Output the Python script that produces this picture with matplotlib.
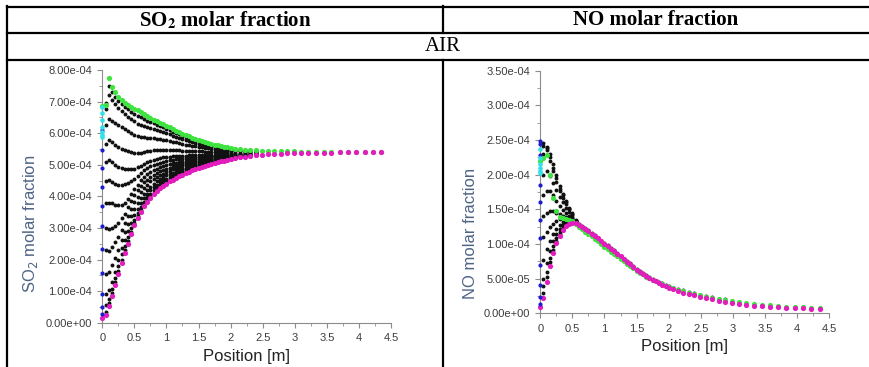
import matplotlib
matplotlib.use("Agg")
import matplotlib.pyplot as plt
from matplotlib.lines import Line2D
from matplotlib.ticker import FuncFormatter, MultipleLocator
import numpy as np

# axial positions of the mesh columns [m]
x_cols = [0.00, 0.05, 0.10, 0.15, 0.20, 0.25, 0.30, 0.35, 0.40, 0.45, 0.50,
          0.55, 0.60, 0.65, 0.70, 0.75, 0.80, 0.85, 0.90, 0.95, 1.00,
          1.05, 1.10, 1.15, 1.20, 1.25, 1.30, 1.35, 1.40, 1.45, 1.50,
          1.55, 1.60, 1.65, 1.70, 1.75, 1.80, 1.85, 1.90, 1.95, 2.00,
          2.07, 2.15, 2.23, 2.31, 2.40, 2.49, 2.58, 2.68, 2.78, 2.88,
          2.99, 3.10, 3.21, 3.33, 3.45, 3.57, 3.70, 3.83, 3.96, 4.09, 4.22, 4.35]

# ---- SO2 molar fraction (x 1e-4) ----
so2_axis = [0.14, 0.25, 0.53, 0.85, 1.20, 1.55, 1.90, 2.20, 2.50, 2.80, 3.08,
            3.30, 3.50, 3.68, 3.83, 3.96, 4.07, 4.17, 4.26, 4.33, 4.40,
            4.47, 4.53, 4.59, 4.64, 4.69, 4.74, 4.78, 4.82, 4.86, 4.90,
            4.94, 4.97, 5.00, 5.03, 5.06, 5.08, 5.11, 5.13, 5.15, 5.17,
            5.20, 5.23, 5.26, 5.28, 5.30, 5.32, 5.33, 5.34, 5.35, 5.36,
            5.37, 5.37, 5.38, 5.38, 5.38, 5.38, 5.39, 5.39, 5.39, 5.39, 5.39, 5.39]
so2_wall = [6.85, 6.90, 7.75, 7.47, 7.29, 7.16, 7.05, 6.97, 6.90, 6.84, 6.78,
            6.72, 6.66, 6.60, 6.54, 6.49, 6.43, 6.38, 6.33, 6.28, 6.23,
            6.18, 6.13, 6.08, 6.03, 5.98, 5.94, 5.90, 5.86, 5.82, 5.78,
            5.75, 5.72, 5.69, 5.66, 5.63, 5.61, 5.59, 5.57, 5.55, 5.53,
            5.51, 5.49, 5.48, 5.47, 5.46, 5.45, 5.44, 5.43, 5.43, 5.42,
            5.42, 5.41, 5.41, 5.40, 5.40, 5.40, 5.40, 5.39, 5.39, 5.39, 5.39, 5.39]
so2_inlet = [6.10, 5.47, 4.89, 4.30, 3.70, 3.06, 2.34, 1.58, 0.90, 0.49, 0.27]
so2_inlet2 = [6.84, 6.63, 6.42, 6.20, 6.05, 5.95, 5.89]
# interior rows, columns 0.05 ... 2.40 m
so2_rows = [
    [0.35, 0.62, 0.95, 1.30, 1.65, 2.00, 2.30, 2.59, 2.88, 3.15, 3.37,
     3.56, 3.74, 3.88, 4.01, 4.12, 4.21, 4.30, 4.37, 4.44, 4.50, 4.56, 4.62,
     4.67, 4.72, 4.76, 4.80, 4.84, 4.88, 4.92, 4.96, 4.99, 5.01, 5.04, 5.07,
     5.09, 5.12, 5.14, 5.16, 5.18, 5.21, 5.24, 5.26, 5.28, 5.30],
    [0.55, 0.75, 1.08, 1.42, 1.78, 2.16, 2.44, 2.72, 3.00, 3.26, 3.47,
     3.66, 3.83, 3.97, 4.09, 4.19, 4.28, 4.36, 4.43, 4.49, 4.56, 4.61, 4.66,
     4.71, 4.75, 4.80, 4.84, 4.87, 4.91, 4.94, 4.98, 5.01, 5.03, 5.06, 5.09,
     5.11, 5.13, 5.15, 5.17, 5.19, 5.22, 5.24, 5.27, 5.29, 5.31],
    [0.92, 1.05, 1.30, 1.62, 1.98, 2.36, 2.63, 2.90, 3.16, 3.41, 3.61,
     3.78, 3.94, 4.07, 4.19, 4.28, 4.37, 4.45, 4.51, 4.56, 4.62, 4.67, 4.72,
     4.77, 4.81, 4.85, 4.88, 4.91, 4.95, 4.98, 5.01, 5.04, 5.06, 5.09, 5.11,
     5.13, 5.15, 5.17, 5.19, 5.20, 5.23, 5.25, 5.28, 5.30, 5.31],
    [1.55, 1.60, 1.83, 2.04, 2.30, 2.62, 2.87, 3.12, 3.37, 3.60, 3.78,
     3.94, 4.09, 4.21, 4.31, 4.40, 4.48, 4.55, 4.60, 4.66, 4.71, 4.75, 4.80,
     4.83, 4.87, 4.91, 4.94, 4.97, 4.99, 5.02, 5.05, 5.08, 5.10, 5.12, 5.14,
     5.15, 5.18, 5.19, 5.21, 5.22, 5.24, 5.27, 5.29, 5.31, 5.32],
    [2.30, 2.28, 2.40, 2.55, 2.72, 2.93, 3.15, 3.38, 3.61, 3.82, 3.98,
     4.13, 4.26, 4.37, 4.47, 4.54, 4.61, 4.67, 4.72, 4.77, 4.81, 4.85, 4.89,
     4.92, 4.95, 4.98, 5.00, 5.03, 5.05, 5.08, 5.10, 5.12, 5.14, 5.16, 5.17,
     5.19, 5.21, 5.22, 5.23, 5.24, 5.26, 5.28, 5.30, 5.32, 5.33],
    [3.00, 2.98, 3.00, 3.05, 3.15, 3.30, 3.45, 3.65, 3.85, 4.04, 4.19,
     4.32, 4.44, 4.53, 4.62, 4.68, 4.74, 4.80, 4.84, 4.88, 4.91, 4.95, 4.98,
     5.00, 5.03, 5.05, 5.07, 5.09, 5.11, 5.13, 5.15, 5.17, 5.18, 5.19, 5.21,
     5.22, 5.23, 5.24, 5.25, 5.26, 5.28, 5.30, 5.32, 5.33, 5.34],
    [3.78, 3.80, 3.78, 3.74, 3.72, 3.74, 3.80, 3.92, 4.07, 4.23, 4.37,
     4.51, 4.61, 4.70, 4.77, 4.83, 4.88, 4.92, 4.95, 4.99, 5.02, 5.04, 5.07,
     5.08, 5.10, 5.12, 5.14, 5.15, 5.17, 5.18, 5.20, 5.21, 5.22, 5.23, 5.24,
     5.25, 5.26, 5.27, 5.28, 5.29, 5.30, 5.31, 5.33, 5.34, 5.35],
    [4.50, 4.52, 4.45, 4.40, 4.37, 4.36, 4.38, 4.42, 4.48, 4.55, 4.65,
     4.73, 4.82, 4.89, 4.95, 4.99, 5.03, 5.07, 5.09, 5.11, 5.14, 5.15, 5.17,
     5.18, 5.19, 5.21, 5.22, 5.23, 5.23, 5.24, 5.26, 5.26, 5.27, 5.28, 5.28,
     5.29, 5.30, 5.30, 5.31, 5.31, 5.32, 5.33, 5.35, 5.35, 5.36],
    [5.10, 5.15, 5.08, 5.00, 4.94, 4.90, 4.88, 4.87, 4.87, 4.88, 4.92,
     4.95, 5.02, 5.08, 5.12, 5.16, 5.19, 5.21, 5.23, 5.24, 5.26, 5.27, 5.28,
     5.28, 5.28, 5.29, 5.30, 5.30, 5.30, 5.30, 5.31, 5.32, 5.32, 5.32, 5.32,
     5.32, 5.33, 5.33, 5.33, 5.34, 5.34, 5.35, 5.36, 5.37, 5.37],
    [5.65, 5.78, 5.72, 5.64, 5.57, 5.51, 5.46, 5.42, 5.39, 5.37, 5.37,
     5.36, 5.40, 5.43, 5.45, 5.46, 5.47, 5.48, 5.48, 5.48, 5.48, 5.47, 5.47,
     5.46, 5.45, 5.45, 5.44, 5.43, 5.43, 5.42, 5.42, 5.41, 5.41, 5.40, 5.40,
     5.39, 5.39, 5.39, 5.39, 5.38, 5.38, 5.38, 5.39, 5.39, 5.39],
    [6.25, 6.45, 6.40, 6.33, 6.26, 6.19, 6.12, 6.06, 6.00, 5.95, 5.91,
     5.87, 5.87, 5.86, 5.86, 5.84, 5.83, 5.81, 5.79, 5.77, 5.75, 5.73, 5.71,
     5.68, 5.66, 5.64, 5.62, 5.60, 5.58, 5.56, 5.55, 5.53, 5.52, 5.50, 5.49,
     5.48, 5.47, 5.46, 5.45, 5.44, 5.43, 5.43, 5.43, 5.42, 5.42],
    [6.75, 7.20, 7.05, 6.92, 6.80, 6.70, 6.60, 6.52, 6.44, 6.37, 6.30,
     6.25, 6.22, 6.19, 6.16, 6.12, 6.09, 6.06, 6.03, 5.99, 5.96, 5.92, 5.89,
     5.85, 5.81, 5.78, 5.75, 5.72, 5.70, 5.67, 5.64, 5.62, 5.60, 5.58, 5.56,
     5.54, 5.53, 5.51, 5.50, 5.48, 5.47, 5.46, 5.45, 5.45, 5.44],
    [6.95, 7.50, 7.30, 7.15, 7.02, 6.92, 6.83, 6.75, 6.68, 6.61, 6.55,
     6.50, 6.45, 6.40, 6.36, 6.31, 6.27, 6.23, 6.18, 6.14, 6.09, 6.05, 6.01,
     5.96, 5.92, 5.88, 5.84, 5.81, 5.77, 5.74, 5.71, 5.68, 5.66, 5.63, 5.60,
     5.58, 5.57, 5.55, 5.53, 5.51, 5.49, 5.48, 5.47, 5.46, 5.45],
]

# ---- NO molar fraction (x 1e-4) ----
no_axis = [0.09, 0.22, 0.45, 0.68, 0.87, 1.01, 1.12, 1.20, 1.26, 1.29, 1.30,
           1.30, 1.28, 1.25, 1.22, 1.19, 1.15, 1.12, 1.08, 1.04, 1.00,
           0.97, 0.93, 0.90, 0.86, 0.82, 0.78, 0.74, 0.71, 0.67, 0.63,
           0.60, 0.57, 0.54, 0.51, 0.48, 0.46, 0.43, 0.41, 0.39, 0.37,
           0.35, 0.32, 0.30, 0.28, 0.26, 0.24, 0.22, 0.20, 0.18, 0.165,
           0.15, 0.135, 0.12, 0.11, 0.10, 0.09, 0.085, 0.08, 0.075, 0.07, 0.065, 0.06]
no_wall = [2.20, 2.24, 2.28, 2.00, 1.66, 1.47, 1.39, 1.37, 1.36, 1.35, 1.33,
           1.29, 1.25, 1.22, 1.18, 1.15, 1.11, 1.07, 1.04, 1.00, 0.96,
           0.93, 0.89, 0.85, 0.82, 0.78, 0.75, 0.71, 0.68, 0.65, 0.61,
           0.58, 0.56, 0.53, 0.51, 0.48, 0.46, 0.44, 0.42, 0.40, 0.38,
           0.36, 0.34, 0.32, 0.30, 0.28, 0.26, 0.24, 0.22, 0.205, 0.19,
           0.175, 0.16, 0.145, 0.135, 0.125, 0.115, 0.105, 0.095, 0.09, 0.085, 0.075, 0.07]
no_inlet = [2.49, 2.44, 2.28, 1.85, 1.60, 1.34, 1.08, 0.70, 0.41, 0.24, 0.14]
no_inlet2 = [2.37, 2.24, 2.16, 2.09, 2.05, 2.02]
# interior rows near the inlet, columns 0.05 ... 0.55 m
no_rows_inlet = [
    [0.30, 0.52, 0.74, 0.92, 1.05, 1.15, 1.22, 1.27, 1.30, 1.31, 1.30],
    [0.40, 0.60, 0.80, 0.97, 1.09, 1.18, 1.25, 1.29, 1.31, 1.32, 1.31],
    [0.50, 0.72, 0.90, 1.04, 1.14, 1.22, 1.28, 1.31, 1.33, 1.33, 1.31],
    [0.77, 0.93, 1.05, 1.15, 1.22, 1.28, 1.32, 1.34, 1.34, 1.34, 1.31],
    [1.10, 1.17, 1.24, 1.29, 1.33, 1.36, 1.37, 1.37, 1.36, 1.35, 1.31],
    [1.40, 1.45, 1.48, 1.47, 1.45, 1.43, 1.41, 1.39, 1.37, 1.36, 1.32],
    [1.70, 1.77, 1.76, 1.70, 1.62, 1.55, 1.49, 1.44, 1.40, 1.37, 1.32],
    [2.00, 2.05, 1.98, 1.88, 1.78, 1.68, 1.60, 1.52, 1.46, 1.39, 1.33],
    [2.30, 2.35, 2.20, 2.05, 1.90, 1.77, 1.67, 1.58, 1.50, 1.42, 1.33],
    [2.42, 2.38, 2.30, 2.15, 1.99, 1.84, 1.72, 1.62, 1.52, 1.44, 1.34],
    [2.46, 2.40, 2.25, 2.10, 1.95, 1.80, 1.70, 1.60, 1.51, 1.43, 1.33],
]
# interior rows downstream, columns 0.60 ... 2.88 m
no_rows_down = [
    [1.29, 1.26, 1.23, 1.20, 1.16, 1.13, 1.09, 1.05, 1.01, 0.98, 0.94, 0.91,
     0.87, 0.83, 0.79, 0.75, 0.72, 0.68, 0.64, 0.61, 0.58, 0.55, 0.52, 0.49,
     0.47, 0.45, 0.43, 0.41, 0.39, 0.37, 0.35, 0.33, 0.31, 0.29, 0.27, 0.25,
     0.23, 0.21, 0.20],
    [1.265, 1.235, 1.20, 1.17, 1.13, 1.095, 1.06, 1.02, 0.98, 0.95, 0.91, 0.875,
     0.84, 0.80, 0.765, 0.725, 0.695, 0.66, 0.62, 0.59, 0.565, 0.535, 0.51, 0.48,
     0.46, 0.435, 0.415, 0.395, 0.375, 0.355, 0.33, 0.31, 0.29, 0.27, 0.25, 0.23,
     0.21, 0.19, 0.178],
]

BLACK = "#111111"
MAGENTA = "#e21cbd"
GREEN = "#3fe33f"
BLUE = "#1c1cd0"
CYAN = "#33e0e6"
GRID_GREY = "#8c8c8c"


def style_axes(ax, ymax, ystep, ylabel, label_y, xlabel_y):
    ax.set_xlim(0, 4.5)
    ax.set_ylim(0, ymax)
    for side in ("top", "right"):
        ax.spines[side].set_visible(False)
    for side in ("left", "bottom"):
        ax.spines[side].set_color(GRID_GREY)
        ax.spines[side].set_linewidth(0.8)
    ax.xaxis.set_major_locator(MultipleLocator(0.5))
    ax.xaxis.set_minor_locator(MultipleLocator(0.25))
    ax.yaxis.set_major_locator(MultipleLocator(ystep))
    ax.yaxis.set_minor_locator(MultipleLocator(ystep / 2))
    ax.xaxis.set_major_formatter(FuncFormatter(lambda v, p: f"{v:g}"))
    ax.yaxis.set_major_formatter(FuncFormatter(lambda v, p: f"{v * 1e-4:.2e}"))
    ax.tick_params(which="major", length=3.5, width=0.8, color=GRID_GREY,
                   labelsize=8, labelcolor="#3c3c3c", pad=4,
                   labelfontfamily="Liberation Sans")
    ax.tick_params(which="minor", length=2, width=0.6, color=GRID_GREY)
    ax.set_xlabel("Position [m]", fontsize=12, color="#222222",
                  family="Liberation Sans")
    ax.xaxis.set_label_coords(0.5, xlabel_y)
    ax.set_ylabel(ylabel, fontsize=12, color="#4f6484", family="Liberation Sans")
    ax.yaxis.set_label_coords(-0.215, label_y)
    ax.set_facecolor("white")


def scatter(ax, x, y, color, size):
    ax.scatter(x, y, s=size, color=color, linewidths=0, clip_on=False, zorder=3)


fig = plt.figure(figsize=(8.7, 3.67), dpi=100)

# ---- left panel: SO2 ----
ax1 = fig.add_axes([0.1176, 0.1207, 0.3318, 0.6886])
x_so2_rows = x_cols[1:46]
for row in so2_rows:
    scatter(ax1, x_so2_rows, row, BLACK, 8)
scatter(ax1, x_cols, so2_wall, GREEN, 14)
scatter(ax1, x_cols, so2_axis, MAGENTA, 14)
scatter(ax1, np.zeros(len(so2_inlet)), so2_inlet, BLUE, 9)
scatter(ax1, np.zeros(len(so2_inlet2)), so2_inlet2, CYAN, 11)
style_axes(ax1, 8, 1, r"SO$_2$ molar fraction", 0.39, -0.105)

# ---- right panel: NO ----
ax2 = fig.add_axes([0.6210, 0.1463, 0.3322, 0.6611])
for row in no_rows_inlet:
    scatter(ax2, x_cols[1:12], row, BLACK, 8)
for row in no_rows_down:
    scatter(ax2, x_cols[12:51], row, BLACK, 8)
scatter(ax2, x_cols, no_wall, GREEN, 14)
scatter(ax2, x_cols, no_axis, MAGENTA, 14)
scatter(ax2, np.zeros(len(no_inlet)), no_inlet, BLUE, 9)
scatter(ax2, np.zeros(len(no_inlet2)), no_inlet2, CYAN, 11)
style_axes(ax2, 3.5, 0.5, "NO molar fraction", 0.33, -0.105)

# ---- table frame around the figures ----
W, H = 870.0, 367.0


def hline(y, x0, x1):
    fig.add_artist(Line2D([x0 / W, x1 / W], [1 - y / H, 1 - y / H],
                          transform=fig.transFigure, color="black", lw=1.6))


def vline(x, y0, y1):
    fig.add_artist(Line2D([x / W, x / W], [1 - y0 / H, 1 - y1 / H],
                          transform=fig.transFigure, color="black", lw=1.6))


hline(7, 7, 870)
hline(33, 7, 870)
hline(59.5, 7, 870)
vline(7.5, 6, 367)
vline(443, 6, 33)
vline(443, 59.5, 367)

plt.rcParams["mathtext.fontset"] = "stix"
fig.text(225 / W, 1 - 20 / H, r"SO$_\mathbf{2}$ molar fraction", ha="center",
         va="center", fontsize=15, fontweight="bold", family="Liberation Serif")
fig.text(656 / W, 1 - 20 / H, "NO molar fraction", ha="center", va="center",
         fontsize=15, fontweight="bold", family="Liberation Serif")
fig.text(443 / W, 1 - 46.5 / H, "AIR", ha="center", va="center",
         fontsize=15, family="Liberation Serif")

fig.savefig("out.png", dpi=100)
